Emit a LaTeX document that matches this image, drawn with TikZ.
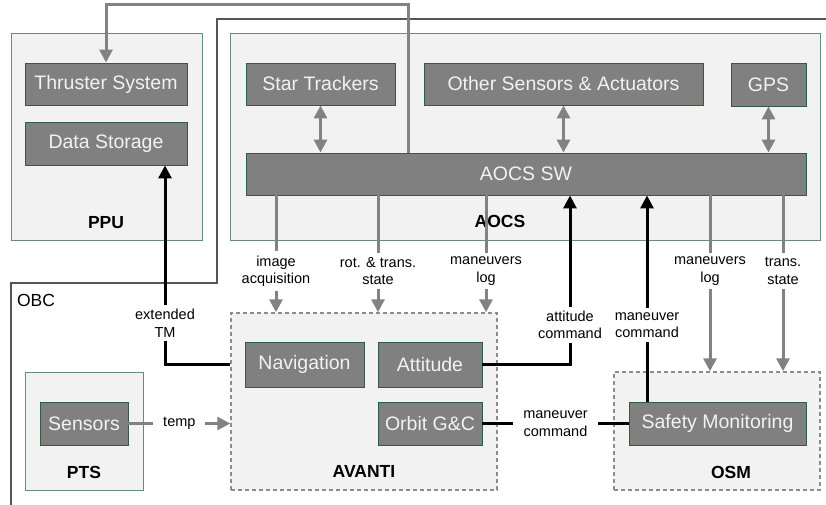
\documentclass[tikz,border=0pt]{standalone}
\usepackage{fontspec}
\setmainfont{Liberation Sans}
\usetikzlibrary{arrows.meta,calc}
\definecolor{boxfill}{HTML}{808080}
\definecolor{boxline}{HTML}{2E5E3E}
\definecolor{contfill}{HTML}{F2F2F2}
\definecolor{contline}{HTML}{6A8C72}
\definecolor{garr}{HTML}{828282}
\definecolor{dashc}{HTML}{8C8C8C}
\definecolor{obcc}{HTML}{555555}
\tikzset{
  box/.style={draw=boxline, line width=0.9pt, fill=boxfill, text=white!95!black, inner sep=0pt,
    font=\fontsize{19.5}{22}\selectfont},
  cont/.style={draw=contline, line width=0.9pt, fill=contfill, inner sep=0pt},
  dcont/.style={draw=dashc, line width=1.5pt, dash pattern=on 4pt off 3pt, fill=contfill, inner sep=0pt},
  clabel/.style={font=\bfseries\fontsize{17.5}{20}\selectfont, inner sep=0pt},
  elabel/.style={font=\fontsize{14.5}{17.5}\selectfont, align=center, fill=white, inner xsep=10pt, inner ysep=4pt},
  garrow/.style={draw=garr, line width=3pt, -{Triangle[width=13pt,length=13pt]}},
  gbiarrow/.style={draw=garr, line width=3pt, {Triangle[width=13pt,length=13pt]}-{Triangle[width=13pt,length=13pt]}},
  barrow/.style={draw=black, line width=3pt, -{Triangle[width=13pt,length=13pt]}},
  bline/.style={draw=black, line width=3pt},
  obcline/.style={draw=obcc, line width=1.3pt},
}
\begin{document}
\begin{tikzpicture}[x=1pt,y=-1pt]
\useasboundingbox (0,0) rectangle (826,504);
\fill[white] (0,0) rectangle (826,504);

% containers
\node[cont, minimum width=191pt, minimum height=207pt] (ppu) at (106.5,136.5) {};
\node[cont, minimum width=590pt, minimum height=207pt] (aocs) at (525,136.5) {};
\node[clabel] (ppulbl) at (106,223) {PPU};
\node[clabel] (aocslbl) at (500,221) {AOCS};

% OBC outline
\coordinate (o1) at (826,19);
\coordinate (o2) at (217,19);
\coordinate (o3) at (217,283);
\coordinate (o4) at (11,283);
\coordinate (o5) at (11,506);
\draw[obcline] (o1) -- (o2) -- (o3) -- (o4) -- (o5);
\node[font=\fontsize{17.5}{20}\selectfont, inner sep=0pt] (obclbl) at (36,300) {OBC};

\node[dcont, minimum width=266pt, minimum height=177pt] (avanti) at (364,401.5) {};
\node[dcont, minimum width=206pt, minimum height=118pt] (osm) at (717,431) {};
\node[cont, minimum width=118pt, minimum height=118pt] (pts) at (84,431) {};
\node[clabel] (avantilbl) at (364,471) {AVANTI};
\node[clabel] (osmlbl) at (731,472) {OSM};
\node[clabel] (ptslbl) at (84,472) {PTS};

% boxes
\node[box, minimum width=162pt, minimum height=42pt] (thr) at (106,84) {Thruster System};
\node[box, minimum width=162pt, minimum height=43pt] (dst) at (106,143.5) {Data Storage};
\node[box, minimum width=149pt, minimum height=42pt] (str) at (320.5,84) {Star Trackers};
\node[box, minimum width=279pt, minimum height=42pt] (oth) at (563.5,84) {Other Sensors \& Actuators};
\node[box, minimum width=75pt, minimum height=43pt] (gps) at (768.5,84.5) {GPS};
\node[box, minimum width=560pt, minimum height=42pt] (sw) at (526,174) {AOCS SW};
\node[box, minimum width=119pt, minimum height=45pt] (nav) at (304.5,364.5) {Navigation};
\node[box, minimum width=104pt, minimum height=45pt] (att) at (430,364.5) {Attitude};
\node[box, minimum width=104pt, minimum height=43pt] (orb) at (430,423.5) {Orbit G\&C};
\node[box, minimum width=177pt, minimum height=43pt] (saf) at (717.5,423.5) {Safety Monitoring};
\node[box, minimum width=88pt, minimum height=43pt] (sen) at (84,423.5) {Sensors};

% AOCS SW -> Thruster
\coordinate (t1) at (408,4);
\draw[garrow] (sw.north -| t1) -- (t1) -| (thr.north);

% bidirectional
\draw[gbiarrow] (str.south) -- (sw.north -| str.south);
\draw[gbiarrow] (oth.south) -- (sw.north -| oth.south);
\draw[gbiarrow] (gps.south) -- (sw.north -| gps.south);

% downward gray arrows
\coordinate (d1) at (276,0);
\coordinate (d2) at (378,0);
\coordinate (d3) at (486,0);
\coordinate (d4) at (710,0);
\coordinate (d5) at (783,0);
\draw[garrow] (sw.south -| d1) -- (avanti.north -| d1);
\draw[garrow] (sw.south -| d2) -- (avanti.north -| d2);
\draw[garrow] (sw.south -| d3) -- (avanti.north -| d3);
\draw[garrow] (sw.south -| d4) -- (osm.north -| d4);
\draw[garrow] (sw.south -| d5) -- (osm.north -| d5);
\node[elabel] (l1) at (276,271) {image\\acquisition};
\node[elabel] (l2) at (378,271) {rot. \& trans.\\state};
\node[elabel] (l3) at (486,271) {maneuvers\\log};
\node[elabel] (l4) at (710,271) {maneuvers\\log};
\node[elabel] (l5) at (783,271) {trans.\\state};

% black arrows
\coordinate (e1) at (165,165);
\draw[barrow] (avanti.west |- nav.west) -| (dst.south -| e1);
\node[elabel] (l6) at (165,323) {extended\\TM};
\coordinate (a1) at (570,195);
\draw[barrow] (att.east) -| (sw.south -| a1);
\node[elabel] (l7) at (570,325) {attitude\\command};
\coordinate (m1) at (647,0);
\draw[barrow] (saf.north -| m1) -- (sw.south -| m1);
\node[elabel] (l8) at (647,325) {maneuver\\command};
\draw[bline] (orb.east) -- (saf.west) node[elabel, midway] (l9) {maneuver\\command};

% temp
\draw[garrow] (sen.east) -- (avanti.west |- sen.east) node[elabel, midway] (l10) {temp};
\end{tikzpicture}
\end{document}
